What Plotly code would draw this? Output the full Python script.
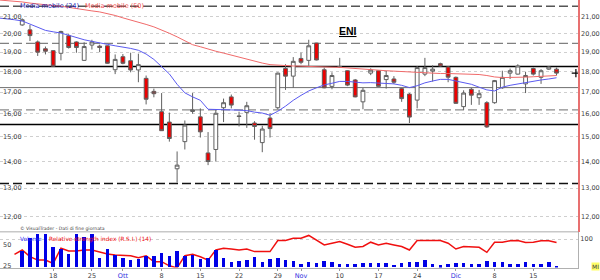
import plotly.graph_objects as go

# ---------------- data ----------------
days = list(range(70))
opens = [20.50, 20.22, 19.55, 19.18, 19.08, 18.94, 19.89, 19.55, 18.57, 19.38,
         19.32, 19.34, 18.09, 18.76, 18.55, 18.08, 17.66, 17.03, 16.09, 15.63,
         13.72, 14.80, 16.10, 15.86, 14.34, 14.48, 16.27, 16.77, 15.90, 16.06,
         15.59, 14.76, 15.81, 16.27, 18.15, 17.77, 18.67, 18.57, 19.49, 18.09,
         17.27, 18.25, 18.04, 17.58, 16.54, 17.92, 18.04, 17.60, 17.63, 17.16,
         16.90, 16.62, 17.87, 18.02, 18.40, 18.23, 17.71, 16.32, 17.13, 16.73,
         16.50, 16.50, 17.20, 17.92, 17.87, 17.39, 18.15, 17.71, 18.12, 18.12]
highs = [20.88, 20.50, 19.63, 19.30, 19.10, 20.17, 19.98, 19.58, 19.53, 19.67,
         19.40, 19.36, 18.88, 18.90, 18.97, 18.92, 17.80, 17.16, 16.95, 16.05,
         14.40, 15.70, 16.95, 16.24, 15.20, 16.20, 16.69, 16.88, 16.09, 16.54,
         15.67, 15.47, 16.02, 17.95, 18.37, 18.74, 18.97, 19.67, 19.50, 18.20,
         17.96, 18.70, 18.06, 17.63, 17.19, 18.16, 18.06, 18.04, 17.77, 17.20,
         16.95, 18.28, 18.70, 18.32, 18.45, 18.28, 17.75, 17.08, 17.19, 17.10,
         16.57, 17.58, 18.04, 18.15, 18.37, 17.99, 18.20, 18.12, 18.28, 18.20]
lows = [20.45, 19.60, 18.80, 18.88, 18.25, 18.57, 19.19, 18.97, 18.55, 19.14,
        19.00, 18.40, 17.87, 18.37, 17.96, 17.47, 16.42, 16.75, 15.25, 14.80,
        13.20, 14.48, 16.00, 14.97, 13.86, 14.00, 15.63, 16.24, 15.44, 15.38,
        14.88, 14.37, 14.97, 16.20, 17.10, 17.20, 18.37, 18.29, 18.57, 17.18,
        17.13, 18.20, 17.28, 16.75, 16.20, 17.82, 17.26, 17.16, 17.39, 16.54,
        15.59, 16.24, 17.77, 17.50, 18.25, 17.47, 16.45, 16.17, 16.40, 16.40,
        15.38, 16.45, 17.15, 17.63, 17.85, 16.95, 17.80, 17.39, 18.08, 17.80]
closes = [20.80, 19.90, 19.00, 19.05, 18.27, 20.13, 19.25, 19.25, 19.30, 19.55,
          19.25, 18.42, 18.62, 18.42, 18.08, 18.35, 16.66, 16.92, 15.26, 14.93,
          13.86, 15.50, 16.18, 15.21, 14.00, 16.02, 16.50, 16.39, 15.88, 16.36,
          15.44, 15.33, 15.35, 17.92, 17.77, 18.52, 18.47, 19.34, 18.59, 17.20,
          17.80, 18.23, 17.33, 16.77, 17.08, 18.07, 17.27, 17.80, 17.47, 16.69,
          15.85, 18.20, 18.20, 18.12, 18.28, 17.72, 16.47, 16.95, 16.85, 16.92,
          15.42, 17.55, 17.71, 18.04, 18.28, 17.80, 17.87, 18.04, 18.23, 17.92]
volume = [59, 103, 118, 118, 70, 64, 48, 118, 108, 118,
          33, 64, 42, 33, 25, 29, 38, 38, 52, 38,
          59, 38, 44, 28, 33, 62, 33, 19, 21, 27,
          35, 20, 30, 31, 25, 21, 13, 20, 16, 23,
          20, 13, 10, 13, 14, 16, 14, 14, 9, 15,
          20, 18, 26, 13, 7, 13, 15, 15, 13, 13,
          22, 18, 19, 10, 10, 19, 12, 12, 19, 6]

ma_days = list(range(-3, 70))
ma24 = [20.90, 20.86, 20.80,
        20.73, 20.55, 20.36, 20.19, 20.11, 20.04, 19.92, 19.78, 19.67, 19.58,
        19.48, 19.42, 19.34, 19.28, 19.20, 19.10, 18.90, 18.62, 18.26, 17.88,
        17.37, 16.96, 16.77, 16.61, 16.20, 16.18, 16.18, 16.17, 16.16, 16.14,
        16.07, 16.03, 15.93, 16.11, 16.34, 16.61, 16.84, 17.05, 17.20, 17.34,
        17.42, 17.51, 17.51, 17.46, 17.44, 17.45, 17.44, 17.42, 17.39, 17.32,
        17.21, 17.30, 17.44, 17.53, 17.61, 17.61, 17.53, 17.46, 17.37, 17.23,
        17.10, 17.05, 17.23, 17.32, 17.39, 17.46, 17.53, 17.58, 17.63, 17.69]
ma50 = [21.98, 21.95, 21.91,
        21.86, 21.79, 21.73, 21.69, 21.64, 21.60, 21.52, 21.45, 21.38, 21.32,
        21.26, 21.17, 21.05, 20.91, 20.79, 20.65, 20.53, 20.39, 20.22, 20.03,
        19.83, 19.62, 19.40, 19.29, 19.16, 19.05, 18.95, 18.84, 18.74, 18.64,
        18.53, 18.43, 18.35, 18.32, 18.29, 18.28, 18.27, 18.25, 18.24, 18.23,
        18.22, 18.21, 18.18, 18.14, 18.10, 18.08, 18.05, 18.04, 18.02, 18.00,
        17.97, 17.94, 17.93, 17.91, 17.90, 17.90, 17.89, 17.88, 17.86, 17.85,
        17.80, 17.73, 17.70, 17.70, 17.71, 17.72, 17.74, 17.76, 17.78, 17.80]

rsi_days = list(range(-1, 70))
rsi = [38.7,
       43.9, 35.9, 31.8, 31.8, 27.8, 46.0, 42.7, 42.7, 43.9, 43.9,
       41.1, 39.1, 37.9, 37.1, 37.1, 34.7, 37.1, 29.9, 29.9, 25.0,
       22.5, 37.1, 38.7, 35.9, 31.8, 43.9, 46.0, 45.1, 43.9, 45.1,
       42.0, 42.0, 42.0, 55.3, 55.3, 58.1, 58.1, 61.4, 56.1, 50.0,
       52.1, 54.1, 50.8, 47.2, 48.1, 53.3, 50.0, 52.1, 50.0, 48.1,
       43.9, 55.3, 55.3, 55.3, 55.3, 52.1, 45.1, 48.1, 48.1, 47.2,
       41.1, 53.3, 53.3, 54.9, 55.3, 52.9, 53.3, 54.9, 54.9, 52.9]

tick_days = [4, 9, 13, 18, 23, 28, 33, 36, 41, 46, 51, 56, 61, 66]
tick_text = ["18", "25", "Ott", "8", "15", "22", "29", "Nov", "10", "17", "24", "Dic", "8", "15"]
month_labels = {"Ott", "Nov", "Dic"}
price_ticks = [12, 13, 14, 15, 16, 17, 18, 19, 20, 21, 22]
rsi_ticks = [25, 50]
vol_ticks = [100]

levels = [21.60, 19.47, 18.26, 17.21, 16.17, 15.52, 13.17]
level_colors = ["#555555", "#808080", "#000000", "#707070", "#8a8a8a", "#000000", "#111111"]
level_dash = ["9px,4px", "9px,4px", "solid", "solid", "9px,4px", "solid", "9px,4px"]
level_width = [1.5, 1.3, 1.5, 1.0, 1.3, 1.5, 1.5]

# ---------------- figure ----------------
W, H = 600, 280
XR = 580 / W
main_dom = [1 - 233.5 / H, 1]
low_dom = [1 - 269.5 / H, 1 - 234 / H]
FONT = "DejaVu Sans"

fig = go.Figure()

fig.add_trace(go.Bar(x=days, y=volume, xaxis="x", yaxis="y3", width=0.45,
                     marker=dict(color="#0000e6", line=dict(width=0)), showlegend=False))
fig.add_trace(go.Scatter(x=rsi_days, y=rsi, xaxis="x", yaxis="y2", mode="lines",
                         line=dict(color="#f01010", width=1.5), showlegend=False))

fig.add_trace(go.Scatter(x=ma_days, y=ma50, xaxis="x", yaxis="y", mode="lines",
                         line=dict(color="#f06a6a", width=1), showlegend=False))
# the blue average sits on the left-labelled twin of the price axis (same scale)
fig.add_trace(go.Scatter(x=ma_days, y=ma24, xaxis="x", yaxis="y4", mode="lines",
                         line=dict(color="#5a5af0", width=1), showlegend=False))

fig.add_trace(go.Candlestick(
    x=days, open=opens, high=highs, low=lows, close=closes, xaxis="x", yaxis="y",
    increasing=dict(fillcolor="#ffffff", line=dict(color="#606060", width=1)),
    decreasing=dict(fillcolor="#ee0000", line=dict(color="#606060", width=1)),
    whiskerwidth=0, showlegend=False))

fig.add_trace(go.Scatter(x=[days[-1] + 2.5], y=[closes[-1]], xaxis="x", yaxis="y", mode="markers",
                         marker=dict(symbol="cross-thin", size=6, line=dict(color="#000", width=1.2)),
                         showlegend=False))

for lv, c, d, w in zip(levels, level_colors, level_dash, level_width):
    fig.add_shape(type="line", xref="x domain", x0=0, x1=1, yref="y", y0=lv, y1=lv,
                  line=dict(color=c, dash=d, width=w), layer="below")

# separator between panels
fig.add_shape(type="line", xref="paper", yref="paper", x0=0, x1=XR,
              y0=main_dom[0], y1=main_dom[0], line=dict(color="#c8c8c8", width=1.5))

ticktext_fmt = [f"<span style='color:#3030e0'>{t}</span>" if t in month_labels else t for t in tick_text]

log_range = [1.0609, 1.3420]
tickfont = dict(family=FONT, size=6.5, color="#404040")

fig.update_layout(
    width=W, height=H, margin=dict(l=0, r=0, t=0, b=0),
    paper_bgcolor="white", plot_bgcolor="white",
    separators=",.", showlegend=False, bargap=0,
    xaxis=dict(domain=[0, XR], anchor="y2", range=[-2.87, 71.78],
               tickmode="array", tickvals=tick_days, ticktext=ticktext_fmt,
               ticks="outside", ticklen=2, tickcolor="#999", tickfont=tickfont,
               showline=True, linecolor="#b0b0b0", linewidth=1,
               showgrid=False, zeroline=False, rangeslider=dict(visible=False)),
    yaxis=dict(domain=main_dom, anchor="x", type="log", range=log_range, side="right",
               tickmode="array", tickvals=price_ticks, tickformat=".2f", tickfont=tickfont,
               showgrid=True, gridcolor="#cfcfcf", griddash="dot", gridwidth=1,
               showline=True, linecolor="#e87070", linewidth=1.5, ticks="", zeroline=False),
    yaxis4=dict(overlaying="y", anchor="x", side="left", type="log", range=log_range,
                tickmode="array", tickvals=price_ticks, tickformat=".2f", tickfont=tickfont,
                ticklabelposition="inside", ticklabeloverflow="allow",
                showgrid=False, showline=False, ticks="", zeroline=False),
    yaxis2=dict(domain=low_dom, anchor="x", range=[22.86, 65.12], side="left",
                tickmode="array", tickvals=rsi_ticks, tickfont=tickfont,
                ticklabelposition="inside", ticklabeloverflow="allow",
                showgrid=False, showline=False, ticks="", zeroline=False),
    yaxis3=dict(overlaying="y2", anchor="x", side="right", range=[0, 124.25],
                tickmode="array", tickvals=vol_ticks, tickfont=tickfont,
                showgrid=True, gridcolor="#cfcfcf", griddash="dot",
                showline=True, linecolor="#b0b0b0", linewidth=1, ticks="", zeroline=False),
)

ann = [
    dict(text="Media mobile (24)", x=18 / W, y=1 - 6 / H, color="#2020b0", size=6.5, anchor="left"),
    dict(text="Media mobile (50)", x=83 / W, y=1 - 6 / H, color="#f05050", size=6.5, anchor="left"),
    dict(text="© VisualTrader - Dati di fine giornata", x=18 / W, y=1 - 230 / H, color="#404040", size=4.6, anchor="left"),
    dict(text="Volume", x=18 / W, y=1 - 241 / H, color="#3030f0", size=5.8, anchor="left"),
    dict(text="Relative strength index (R.S.I.) (14)", x=47 / W, y=1 - 241 / H, color="#f01010", size=5.8, anchor="left"),
]
for a in ann:
    fig.add_annotation(text=a["text"], x=a["x"], y=a["y"], xref="paper", yref="paper",
                       xanchor=a["anchor"], yanchor="middle", showarrow=False,
                       font=dict(family=FONT, size=a["size"], color=a["color"]))

fig.add_annotation(text="<b><u>ENI</u></b>", x=349.5 / W, y=1 - 31 / H, xref="paper", yref="paper",
                   xanchor="center", yanchor="middle", showarrow=False,
                   font=dict(family="Liberation Sans", size=10.5, color="#000"))
fig.add_annotation(text="MI", x=593 / W, y=1 - 268 / H, xref="paper", yref="paper",
                   xanchor="left", yanchor="middle", showarrow=False, bgcolor="#ffff66",
                   borderpad=0, font=dict(family=FONT, size=6, color="#404040"))

fig.write_html("out.html")
